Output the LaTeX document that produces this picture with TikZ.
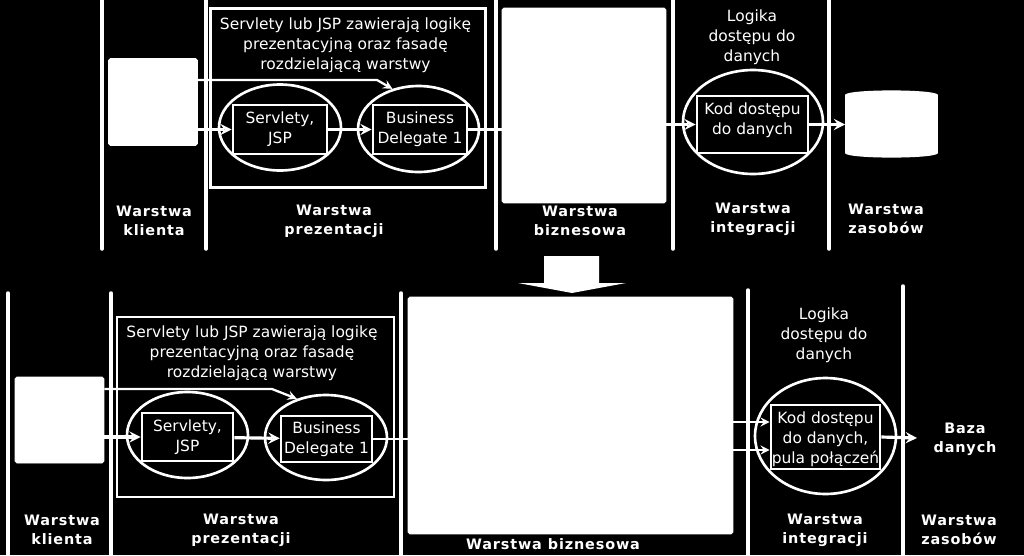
\documentclass[tikz,border=0pt]{standalone}
\usepackage{fontspec}
\usepackage{xcolor}
\usepackage{tikz}
\setmainfont{DejaVu Sans}
\newcommand{\plainfont}{\fontsize{8.8}{11.3}\selectfont}
\newcommand{\boldfont}{\fontsize{8.2}{10.9}\selectfont\bfseries\addfontfeature{LetterSpace=6}}
\usetikzlibrary{shapes.geometric}
\tikzset{
  layerline/.style={white, line width=2pt, line cap=round},
  whitebox/.style={fill=white, draw=white, rounded corners=1pt, inner sep=0pt},
  codebox/.style={draw=white, fill=black, line width=1.5pt, text=white, align=center, inner sep=0pt, font=\plainfont},
  oval/.style={draw=white, ellipse, line width=1.5pt, inner sep=0pt},
  note/.style={text=white, align=center, inner sep=0pt, font=\plainfont},
  layername/.style={text=white, align=center, inner sep=0pt, font=\boldfont},
  flow/.style={->, white, line width=1.8pt},
  thinflow/.style={->, white, line width=1.3pt}
}
\begin{document}
\begin{tikzpicture}[>=stealth, x=0.02cm, y=-0.02cm]
  \fill[black] (0,0) rectangle (1024,555);
  \useasboundingbox (0,0) rectangle (1024,555);
  % gorny schemat
  \foreach \x in {102,206,496,673,829} {
    \draw[layerline] (\x,-3) -- (\x,249);
  }
  \node[whitebox, minimum width=1.78cm, minimum height=1.74cm] (client1) at (153,102) {};
  \node[draw=white, line width=1.6pt, minimum width=5.5cm, minimum height=3.58cm] (frame1) at (348,98) {};
  \node[note] (desc1) at (345.5,45) {Servlety lub JSP zawierają logikę\\prezentacyjną oraz fasadę\\rozdzielającą warstwy};
  \node[oval, minimum width=2.44cm, minimum height=1.72cm] (ovalsrv1) at (280,127.5) {};
  \node[oval, minimum width=2.42cm, minimum height=1.72cm] (ovalbd1) at (418.5,129) {};
  \node[oval, minimum width=2.8cm, minimum height=2.08cm] (ovalkod1) at (753,122) {};
  \node[codebox, minimum width=1.88cm, minimum height=0.98cm] (srv1) at (280,129.5) {Servlety,\\JSP};
  \node[codebox, minimum width=1.88cm, minimum height=0.98cm] (bd1) at (420,129.5) {Business\\Delegate 1};
  \node[whitebox, minimum width=3.28cm, minimum height=3.9cm] (biz1) at (584,105.5) {};
  \node[codebox, minimum width=2.22cm, minimum height=1.14cm] (kod1) at (752.5,124.5) {Kod dostępu\\do danych\\[-4.5pt]\mbox{}};
  \node[whitebox, minimum width=1.84cm, minimum height=1.16cm] (db1) at (891.5,124) {};
  \fill[white] (db1.north west) .. controls (849,89) and (934,89) .. (db1.north east) -- (db1.south east) .. controls (934,159) and (849,159) .. (db1.south west) -- cycle;
  \node[note] (logic1) at (752,37) {Logika\\dostępu do\\danych};
  \node[layername] (lclient1) at (154,221) {Warstwa\\klienta};
  \node[layername] (lpres1) at (334,221) {Warstwa\\prezentacji};
  \node[layername] (lbiz1) at (580,221) {Warstwa\\biznesowa};
  \node[layername] (lint1) at (753,219) {Warstwa\\integracji};
  \node[layername] (lres1) at (886,219) {Warstwa\\zasobów};
  \coordinate (bend1) at (377,80);
  \draw[flow] (client1.east |- srv1.west) -- (srv1.west);
  \draw[flow] (srv1) -- (bd1);
  \draw[thinflow] (client1.east |- bend1) -- (bend1) -- (ovalbd1.123);
  \draw[white, line width=1.2pt] (bd1.east) -- (biz1.west |- bd1.east);
  \draw[flow] (biz1.east |- kod1.west) -- (kod1.west);
  \draw[flow] (kod1.east) -- (db1.west |- kod1.east);
  % strzalka w dol
  \fill[white] (544,256) -- (599,256) -- (599,283) -- (626,283) -- (572,293) -- (518,283) -- (544,283) -- cycle;
  % dolny schemat
  \foreach \x/\y in {8/293,111/293,401/293,748/290,903/286} {
    \draw[layerline] (\x,\y) -- (\x,558);
  }
  \node[whitebox, minimum width=1.78cm, minimum height=1.72cm] (client2) at (59.5,420) {};
  \node[draw=white, line width=1.6pt, minimum width=5.54cm, minimum height=3.6cm] (frame2) at (255.5,407) {};
  \node[note] (desc2) at (252,353) {Servlety lub JSP zawierają logikę\\prezentacyjną oraz fasadę\\rozdzielającą warstwy};
  \node[oval, minimum width=2.42cm, minimum height=1.72cm] (ovalsrv2) at (187.5,435) {};
  \node[oval, minimum width=2.44cm, minimum height=1.7cm] (ovalbd2) at (326,437.5) {};
  \node[oval, minimum width=2.82cm, minimum height=2.32cm] (ovalkod2) at (825.5,436) {};
  \node[codebox, minimum width=1.82cm, minimum height=0.96cm] (srv2) at (187.5,437) {Servlety,\\JSP};
  \node[codebox, minimum width=1.82cm, minimum height=0.92cm] (bd2) at (326.5,439) {Business\\Delegate 1};
  \node[whitebox, minimum width=6.5cm, minimum height=4.74cm] (biz2) at (570.5,415.5) {};
  \node[codebox, minimum width=2.18cm, minimum height=1.28cm] (kod2) at (825.5,437) {\rule{0pt}{9.5pt}Kod dostępu\\do danych,\\pula połączeń};
  \node[note] (logic2) at (824,335) {Logika\\dostępu do\\danych};
  \node[layername] (baza) at (965,439) {Baza\\danych};
  \node[layername] (lclient2) at (62,530) {Warstwa\\klienta};
  \node[layername] (lpres2) at (241,530) {Warstwa\\prezentacji};
  \node[layername] (lbiz2) at (553,544) {Warstwa biznesowa};
  \node[layername] (lint2) at (825,530) {Warstwa\\integracji};
  \node[layername] (lres2) at (959,530) {Warstwa\\zasobów};
  \coordinate (bend2) at (272,389);
  \coordinate (end3) at (917,438);
  \draw[flow] (client2.east |- srv2.west) -- (srv2.west);
  \draw[flow] (srv2) -- (bd2);
  \draw[thinflow] (client2.east |- bend2) -- (bend2) -- (ovalbd2.127);
  \draw[white, line width=1.2pt] (bd2.east) -- (biz2.west |- bd2.east);
  \draw[thinflow] (biz2.east |- 0,422) -- (kod2.west |- 0,422);
  \draw[thinflow] (biz2.east |- 0,450) -- (kod2.west |- 0,450);
  \draw[flow] (kod2.east) -- (end3);
\end{tikzpicture}
\end{document}
